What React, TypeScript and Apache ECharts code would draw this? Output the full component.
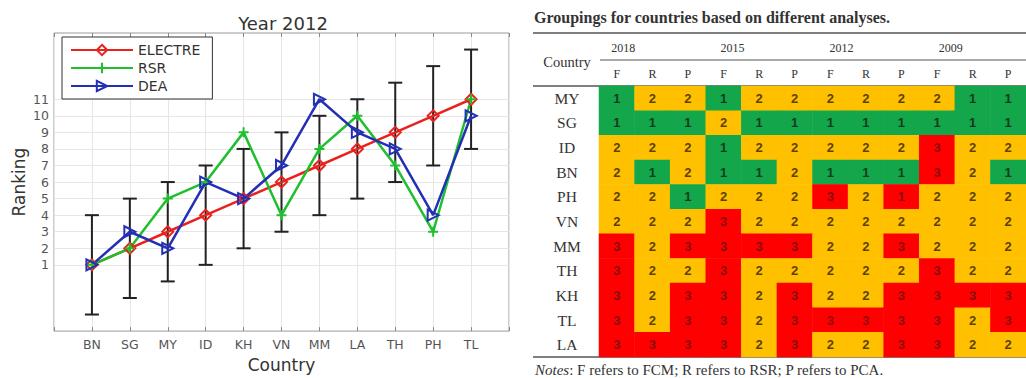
import React, { useEffect, useRef } from 'react';
import * as echarts from 'echarts';

// ---------- Left chart data ----------
const countries = ['BN', 'SG', 'MY', 'ID', 'KH', 'VN', 'MM', 'LA', 'TH', 'PH', 'TL'];
const electre = [1, 2, 3, 4, 5, 6, 7, 8, 9, 10, 11];
const rsr = [1, 2, 5, 6, 9, 4, 8, 10, 7, 3, 11];
const dea = [1, 3, 2, 6, 5, 7, 11, 9, 8, 4, 10];
const errLow = [-2, -1, 0, 1, 2, 3, 4, 5, 6, 7, 8];
const errHigh = [4, 5, 6, 7, 8, 9, 10, 11, 12, 13, 14];
const yTicks = [1, 2, 3, 4, 5, 6, 7, 8, 9, 10, 11];

// ---------- Right table data ----------
const years = ['2018', '2015', '2012', '2009'];
const methods = ['F', 'R', 'P'];
const tableCountries = ['MY', 'SG', 'ID', 'BN', 'PH', 'VN', 'MM', 'TH', 'KH', 'TL', 'LA'];
const groupings = [
  [1, 2, 2, 1, 2, 2, 2, 2, 2, 2, 1, 1],
  [1, 1, 1, 2, 1, 1, 1, 1, 1, 1, 1, 1],
  [2, 2, 2, 1, 2, 2, 2, 2, 2, 3, 2, 2],
  [2, 1, 2, 1, 1, 2, 1, 1, 1, 3, 2, 1],
  [2, 2, 1, 2, 2, 2, 3, 2, 1, 2, 2, 2],
  [2, 2, 2, 3, 2, 2, 2, 2, 2, 2, 2, 2],
  [3, 2, 3, 3, 3, 3, 2, 2, 3, 2, 2, 2],
  [3, 2, 2, 3, 2, 2, 2, 2, 2, 3, 2, 2],
  [3, 2, 3, 3, 2, 3, 2, 2, 3, 3, 3, 3],
  [3, 2, 3, 3, 2, 3, 3, 3, 3, 3, 2, 3],
  [3, 3, 3, 3, 2, 3, 2, 2, 3, 3, 2, 2],
];
// cell shaded differently from its printed value in the source table
const colorOverrides = [{ row: 'PH', col: '2012-P', group: 3 }];

const groupColors: Record<number, string> = { 1: '#14a64b', 2: '#ffc000', 3: '#ff0000' };
const groupText: Record<number, string> = { 1: '#123d1d', 2: '#5c4200', 3: '#8a0c0c' };

const columns = years.flatMap((y) => methods.map((m) => `${y}-${m}`));

export default function App() {
  const ref = useRef<HTMLDivElement>(null);

  useEffect(() => {
    const chart = echarts.init(ref.current!, null, { renderer: 'svg' });
    const xCats = ['', ...countries, ''];
    const sans = 'DejaVu Sans';
    const serif = 'Liberation Serif';

    const heatData: any[] = [];
    groupings.forEach((row, r) => {
      row.forEach((v, c) => {
        const ov = colorOverrides.find((o) => o.row === tableCountries[r] && o.col === columns[c]);
        const g = ov ? ov.group : v;
        heatData.push({ value: [c, r, g, v], label: { color: groupText[g] } });
      });
    });

    const colW = 36.4;
    const gridLeft = 599;
    const tableTop = 86;
    const tableBottom = 357;

    const lineSeries = (name: string, vals: number[], color: string, symbol: string, extra: any = {}) => ({
      type: 'line',
      name,
      xAxisIndex: 0,
      yAxisIndex: 0,
      data: countries.map((c, i) => [c, vals[i]]),
      lineStyle: { color, width: 2.5 },
      itemStyle: { color: 'rgba(255,255,255,0)', borderColor: color, borderWidth: 2 },
      symbol,
      symbolSize: 11,
      showAllSymbol: true,
      z: 3,
      ...extra,
    });

    const option: any = {
      animation: false,
      backgroundColor: '#fff',
      grid: [
        { left: 54, top: 33, width: 455, height: 305, show: true, borderColor: '#9a9a9a', borderWidth: 1, backgroundColor: '#fff' },
        { left: gridLeft, top: tableTop, width: colW * 12, height: tableBottom - tableTop },
      ],
      legend: {
        data: ['ELECTRE', 'RSR', 'DEA'],
        orient: 'vertical',
        left: 62,
        top: 37,
        padding: [6, 12, 6, 8],
        itemWidth: 62,
        itemHeight: 13,
        itemGap: 4,
        borderColor: '#333',
        borderWidth: 1,
        backgroundColor: '#fff',
        textStyle: { fontSize: 14, fontFamily: sans, color: '#333' },
      },
      xAxis: [
        {
          type: 'category', gridIndex: 0, data: xCats, boundaryGap: false,
          axisLine: { show: false, onZero: false },
          axisTick: { inside: true, length: 4, lineStyle: { color: '#888' } },
          axisLabel: { color: '#555', fontSize: 12.5, fontFamily: sans, margin: 7, interval: 0 },
          splitLine: { show: true, lineStyle: { color: '#e6e6e6' } },
          name: 'Country', nameLocation: 'middle', nameGap: 20,
          nameTextStyle: { fontSize: 17, color: '#333', fontFamily: sans },
        },
        {
          type: 'category', gridIndex: 0, data: xCats, boundaryGap: false, position: 'top',
          axisLine: { show: false, onZero: false },
          axisTick: { inside: true, length: 4, lineStyle: { color: '#888' } },
          axisLabel: { show: false },
          splitLine: { show: false },
        },
        {
          type: 'category', gridIndex: 1, data: columns, position: 'top',
          axisLine: { show: false, onZero: false }, axisTick: { show: false },
          axisLabel: {
            interval: 0, margin: 6, fontFamily: serif, fontSize: 12, color: '#333',
            formatter: (v: string) => v.split('-')[1],
          },
          splitLine: { show: false },
        },
      ],
      yAxis: [
        {
          type: 'value', gridIndex: 0, min: -3, max: 15, interval: 1,
          axisLine: { show: false, onZero: false },
          axisTick: { inside: true, length: 4, customValues: yTicks, lineStyle: { color: '#888' } },
          axisLabel: { customValues: yTicks, color: '#555', fontSize: 12.5, fontFamily: sans, margin: 5 },
          splitLine: { show: true, lineStyle: { color: '#e6e6e6' } },
          name: 'Ranking', nameLocation: 'middle', nameGap: 27,
          nameTextStyle: { fontSize: 17, color: '#333', fontFamily: sans },
        },
        {
          type: 'value', gridIndex: 0, min: -3, max: 15, interval: 1, position: 'right',
          axisLine: { show: false, onZero: false },
          axisTick: { inside: true, length: 4, customValues: yTicks, lineStyle: { color: '#888' } },
          axisLabel: { show: false, customValues: yTicks },
          splitLine: { show: false },
        },
        {
          type: 'category', gridIndex: 1, data: tableCountries, inverse: true,
          axisLine: { show: false, onZero: false }, axisTick: { show: false },
          axisLabel: { fontFamily: serif, fontSize: 15.5, color: '#333', margin: 32, align: 'center' },
          splitLine: { show: false },
        },
      ],
      visualMap: {
        type: 'piecewise', show: false, dimension: 2, seriesIndex: 4,
        pieces: [1, 2, 3].map((g) => ({ value: g, color: groupColors[g] })),
      },
      series: [
        {
          type: 'custom',
          xAxisIndex: 0,
          yAxisIndex: 0,
          data: countries.map((c, i) => [c, errLow[i], errHigh[i]]),
          z: 2,
          renderItem: (params: any, api: any) => {
            const x = api.value(0);
            const p1 = api.coord([x, api.value(1)]);
            const p2 = api.coord([x, api.value(2)]);
            const w = 7;
            const style = { stroke: '#222', lineWidth: 2 };
            return {
              type: 'group',
              children: [
                { type: 'line', shape: { x1: p1[0], y1: p1[1], x2: p2[0], y2: p2[1] }, style },
                { type: 'line', shape: { x1: p1[0] - w, y1: p1[1], x2: p1[0] + w, y2: p1[1] }, style },
                { type: 'line', shape: { x1: p2[0] - w, y1: p2[1], x2: p2[0] + w, y2: p2[1] }, style },
              ],
            };
          },
        },
        lineSeries('ELECTRE', electre, '#e8231f', 'diamond'),
        lineSeries('RSR', rsr, '#1fbf2e', 'path://M4,0 H6 V4 H10 V6 H6 V10 H4 V6 H0 V4 H4 Z', {
          itemStyle: { color: '#1fbf2e', borderWidth: 0 }, symbolSize: 10,
        }),
        lineSeries('DEA', dea, '#2330b5', 'triangle', { symbolRotate: -90 }),
        {
          type: 'heatmap',
          xAxisIndex: 2,
          yAxisIndex: 2,
          data: heatData,
          label: {
            show: true, fontFamily: 'Liberation Sans', fontWeight: 'bold', fontSize: 13,
            formatter: (p: any) => String(p.value[3]),
          },
          emphasis: { disabled: true },
        },
      ],
      graphic: [
        {
          type: 'text', x: 283, y: 23,
          style: { text: 'Year 2012', fontSize: 18, fontFamily: sans, fill: '#333', align: 'center', verticalAlign: 'middle', textAlign: 'center', textVerticalAlign: 'middle' },
        },
        {
          type: 'text', x: 534, y: 17,
          style: { text: 'Groupings for countries based on different analyses.', fontSize: 16, fontWeight: 'bold', fontFamily: serif, fill: '#333', verticalAlign: 'middle', textVerticalAlign: 'middle' },
        },
        { type: 'line', shape: { x1: 533, y1: 33, x2: 1026, y2: 33 }, style: { stroke: '#555', lineWidth: 1.5 } },
        {
          type: 'text', x: 567, y: 62,
          style: { text: 'Country', fontSize: 14.5, fontFamily: serif, fill: '#333', align: 'center', verticalAlign: 'middle', textAlign: 'center', textVerticalAlign: 'middle' },
        },
        ...years.map((y, i) => ({
          type: 'text', x: gridLeft + i * 3 * colW + colW / 2 + 6, y: 48,
          style: { text: y, fontSize: 12, fontFamily: serif, fill: '#333', align: 'center', verticalAlign: 'middle', textAlign: 'center', textVerticalAlign: 'middle' },
        })),
        { type: 'line', shape: { x1: 600, y1: 60, x2: 1026, y2: 60 }, style: { stroke: '#555', lineWidth: 1 } },
        { type: 'line', shape: { x1: 533, y1: tableTop, x2: 1026, y2: tableTop }, style: { stroke: '#555', lineWidth: 1.5 } },
        { type: 'line', shape: { x1: 533, y1: tableBottom, x2: 1026, y2: tableBottom }, style: { stroke: '#555', lineWidth: 1.5 } },
        {
          type: 'text', x: 535, y: 370,
          style: {
            text: '{i|Notes}: F refers to FCM; R refers to RSR; P refers to PCA.',
            fontSize: 15, fontFamily: serif, fill: '#333', verticalAlign: 'middle', textVerticalAlign: 'middle',
            rich: { i: { fontStyle: 'italic', fontSize: 15, fontFamily: serif, fill: '#333', color: '#333' } },
          },
        },
      ],
    };

    chart.setOption(option);
    return () => chart.dispose();
  }, []);

  return (
    <div
      ref={ref}
      style={{ position: 'fixed', left: 0, top: 0, width: 1026, height: 378, background: '#fff' }}
    />
  );
}
